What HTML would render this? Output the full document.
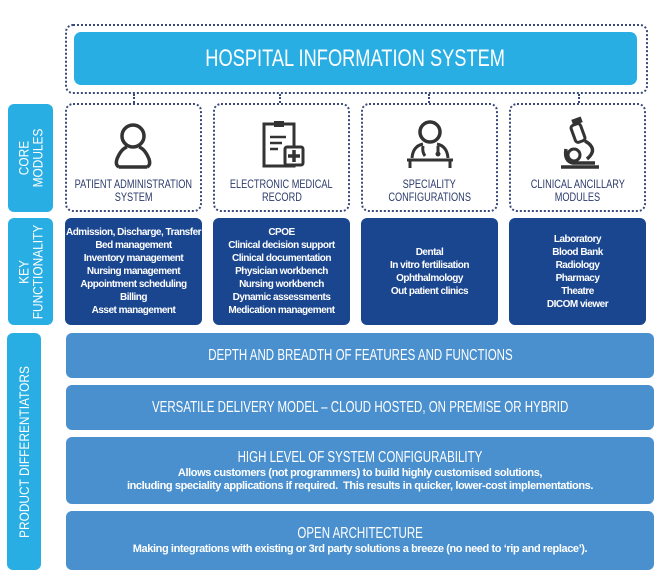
<!DOCTYPE html>
<html><head><style>
*{margin:0;padding:0;box-sizing:border-box}
body{width:670px;height:583px;background:#fff;position:relative;overflow:hidden;font-family:"Liberation Sans",sans-serif}
.a{position:absolute}
.c{display:inline-block;transform:scaleX(0.8);white-space:nowrap}
.dot{border:2px dotted #3b4a7a;border-radius:8px}
.tab{background:#29aee4;border-radius:6px;color:#fff;display:flex;align-items:center;justify-content:center}
.tab span{transform:rotate(-90deg) scaleX(0.85);white-space:nowrap;text-align:center;font-size:14px;line-height:14px}
.t{position:absolute;top:74px;left:-10px;right:-10px;text-align:center;color:#2b3a6b;font-size:11.5px;line-height:13px}
.key{background:#1a4690;border-radius:6px;color:#fff;font-size:10px;line-height:13px;text-align:center;display:flex;align-items:center;justify-content:center;font-weight:bold;letter-spacing:-0.5px;white-space:nowrap}
.row{background:#4a90cf;border-radius:6px;color:#fff;text-align:center;left:66px;width:588px;display:flex;flex-direction:column;justify-content:center;align-items:center}
.row b{font-weight:normal;font-size:16px;line-height:18px;transform:scaleX(0.72)}
.row i{font-style:normal;font-weight:bold;font-size:11px;line-height:13px;letter-spacing:-0.4px}
</style></head><body>
<div class="a dot" style="left:65px;top:24px;width:583px;height:70px"></div>
<div class="a" style="left:74px;top:32px;width:563px;height:53px;background:#29aee4;border-radius:7px;color:#fff;font-size:24px;display:flex;align-items:center;justify-content:center"><span class="c" style="transform:scaleX(0.76)">HOSPITAL INFORMATION SYSTEM</span></div>
<div class="a" style="left:133px;top:94px;height:9px;border-left:2px dotted #3b4a7a"></div>
<div class="a" style="left:279px;top:94px;height:9px;border-left:2px dotted #3b4a7a"></div>
<div class="a" style="left:428px;top:94px;height:9px;border-left:2px dotted #3b4a7a"></div>
<div class="a" style="left:578px;top:94px;height:9px;border-left:2px dotted #3b4a7a"></div>

<div class="a tab" style="left:8px;top:104px;width:45px;height:108px"><span>CORE<br>MODULES</span></div>
<div class="a tab" style="left:8px;top:218px;width:45px;height:107px"><span>KEY<br>FUNCTIONALITY</span></div>
<div class="a tab" style="left:7px;top:333px;width:34px;height:237px"><span>PRODUCT DIFFERENTIATORS</span></div>

<div class="a dot" style="left:65px;top:103px;width:137px;height:109px">
<svg class="a" style="left:44px;top:16px" width="44" height="48" viewBox="0 0 44 48"><circle cx="22" cy="15" r="11" fill="none" stroke="#333" stroke-width="3.5"/><path d="M8 46 Q4 44 6 38 Q10 28 16 26 M36 46 Q40 44 38 38 Q34 28 28 26 M8 46 H36" fill="none" stroke="#333" stroke-width="3.5"/></svg>
<div class="t"><span class="c">PATIENT ADMINISTRATION</span><br><span class="c">SYSTEM</span></div></div>
<div class="a dot" style="left:213px;top:103px;width:137px;height:109px">
<svg class="a" style="left:46px;top:14px" width="48" height="52" viewBox="0 0 48 52"><rect x="3" y="5" width="30" height="42" fill="none" stroke="#333" stroke-width="3"/><rect x="13" y="2" width="10" height="6" fill="#333"/><path d="M9 18h16M9 24h12M9 30h8" stroke="#333" stroke-width="2.5"/><rect x="24" y="28" width="18" height="18" rx="2" fill="#fff" stroke="#333" stroke-width="3"/><path d="M33 31v12M27 37h12" stroke="#333" stroke-width="3.5"/></svg>
<div class="t"><span class="c">ELECTRONIC MEDICAL</span><br><span class="c">RECORD</span></div></div>
<div class="a dot" style="left:361px;top:103px;width:137px;height:109px">
<svg class="a" style="left:42px;top:13px" width="52" height="52" viewBox="0 0 52 52"><circle cx="25" cy="14" r="10" fill="none" stroke="#333" stroke-width="3.5"/><path d="M7 40 Q8 28 18 26 M43 40 Q42 28 32 26 M2 42 H48 M5 42 V50 M45 42 V50 M18 28 Q17 34 20 38 M33 28 V34" fill="none" stroke="#333" stroke-width="3"/><circle cx="33" cy="36" r="2.5" fill="#333"/></svg>
<div class="t"><span class="c">SPECIALITY</span><br><span class="c">CONFIGURATIONS</span></div></div>
<div class="a dot" style="left:509px;top:103px;width:137px;height:109px">
<svg class="a" style="left:48px;top:10px" width="44" height="56" viewBox="0 0 44 56"><rect x="13" y="3" width="10" height="6" fill="#333" transform="rotate(-20 18 6)"/><rect x="14" y="9" width="10" height="18" rx="3" fill="none" stroke="#333" stroke-width="3" transform="rotate(-20 19 18)"/><circle cx="15" cy="40" r="6" fill="none" stroke="#333" stroke-width="3"/><path d="M7 34 Q5 46 14 48 H36 M26 26 Q40 34 28 44 M2 52 H40" fill="none" stroke="#333" stroke-width="3.5"/></svg>
<div class="t"><span class="c">CLINICAL ANCILLARY</span><br><span class="c">MODULES</span></div></div>

<div class="a key" style="left:65px;top:218px;width:137px;height:107px"><div>Admission, Discharge, Transfer<br>Bed management<br>Inventory management<br>Nursing management<br>Appointment scheduling<br>Billing<br>Asset management</div></div>
<div class="a key" style="left:213px;top:218px;width:137px;height:107px"><div>CPOE<br>Clinical decision support<br>Clinical documentation<br>Physician workbench<br>Nursing workbench<br>Dynamic assessments<br>Medication management</div></div>
<div class="a key" style="left:361px;top:218px;width:137px;height:107px"><div>Dental<br>In vitro fertilisation<br>Ophthalmology<br>Out patient clinics</div></div>
<div class="a key" style="left:509px;top:218px;width:137px;height:107px"><div>Laboratory<br>Blood Bank<br>Radiology<br>Pharmacy<br>Theatre<br>DICOM viewer</div></div>

<div class="a row" style="top:333px;height:45px"><b class="c">DEPTH AND BREADTH OF FEATURES AND FUNCTIONS</b></div>
<div class="a row" style="top:385px;height:45px"><b class="c">VERSATILE DELIVERY MODEL – CLOUD HOSTED, ON PREMISE OR HYBRID</b></div>
<div class="a row" style="top:437px;height:67px"><b class="c">HIGH LEVEL OF SYSTEM CONFIGURABILITY</b><i>Allows customers (not programmers) to build highly customised solutions,<br>including speciality applications if required.&nbsp; This results in quicker, lower-cost implementations.</i></div>
<div class="a row" style="top:511px;height:59px"><b class="c">OPEN ARCHITECTURE</b><i>Making integrations with existing or 3rd party solutions a breeze (no need to ‘rip and replace’).</i></div>
</body></html>
